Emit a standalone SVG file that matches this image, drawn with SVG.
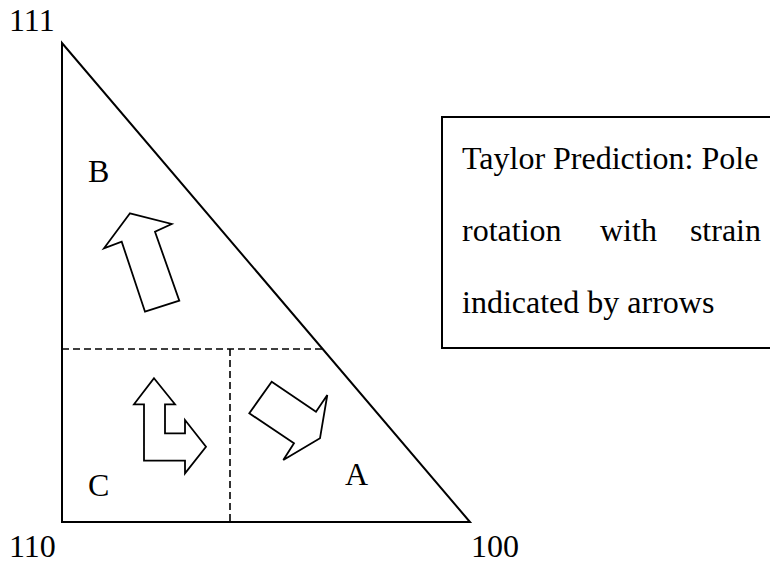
<svg xmlns="http://www.w3.org/2000/svg" width="770" height="565" viewBox="0 0 770 565">
  <style>
    .t { font-family: "Liberation Serif", "Times New Roman", serif; font-size: 32px; fill: #000; }
    .solid { fill: none; stroke: #000; stroke-width: 2; }
    .dash { fill: none; stroke: #000; stroke-width: 1.6; stroke-dasharray: 7 4; }
    .arrow { fill: #fff; stroke: #000; stroke-width: 1.8; stroke-linejoin: miter; }
  </style>
  <rect width="770" height="565" fill="#fff"/>

  <g id="triangle">
    <polygon class="solid" points="62,43 62,522 470,522"/>
  </g>

  <g id="dividers">
    <line class="dash" x1="62" y1="349" x2="323" y2="349"/>
    <line class="dash" x1="230" y1="349" x2="230" y2="522"/>
  </g>

  <g id="corner-labels">
    <text class="t" x="9" y="31">111</text>
    <text class="t" x="9" y="557">110</text>
    <text class="t" x="471" y="557">100</text>
  </g>

  <g id="region-B">
    <text class="t" x="88" y="182">B</text>
    <polygon class="arrow" points="130,213.3 171.7,224 155,231.7 179.3,300.7 145,311.7 121.7,241.7 104,248.3"/>
  </g>

  <g id="region-C">
    <text class="t" x="88" y="496">C</text>
    <polygon class="arrow" points="154,378.3 175,404.3 165,404.3 165,433.3 185,433.3 185,420 206,446.7 185,473.3 185,460.7 144,460.7 144,404.3 134,404.3"/>
  </g>

  <g id="region-A">
    <text class="t" x="345" y="485">A</text>
    <polygon class="arrow" points="271.7,381.7 316,411.7 327.3,395 320,438.3 283.3,460 294,443.3 249.3,413.3"/>
  </g>

  <g id="legend">
    <rect class="solid" x="442" y="117" width="340" height="231"/>
    <text class="t" x="462" y="169">Taylor Prediction: Pole</text>
    <text class="t" x="462" y="241">rotation</text>
    <text class="t" x="600" y="241">with</text>
    <text class="t" x="761" y="241" text-anchor="end">strain</text>
    <text class="t" x="462" y="313">indicated by arrows</text>
  </g>
</svg>
